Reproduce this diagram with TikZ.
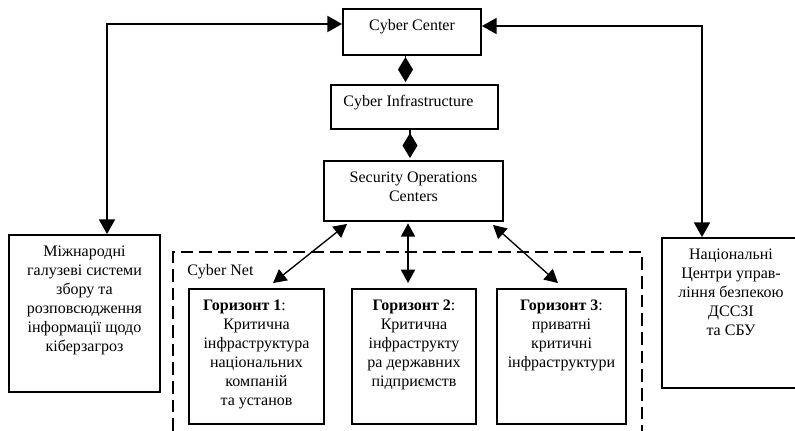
\documentclass[tikz,border=0pt]{standalone}
\usepackage{fontspec}
\setmainfont{Liberation Serif}
\usetikzlibrary{arrows.meta,fit,calc}

\begin{document}
\begin{tikzpicture}[x=0.75pt,y=-0.75pt,
  box/.style={draw, line width=1.4pt, inner sep=0pt},
  txt/.style={anchor=north, align=center, inner sep=0pt,
    font=\fontsize{12}{14.25}\selectfont},
  bigtip/.style={{Triangle[length=11pt,width=12pt]}-{Triangle[length=11pt,width=12pt]}},
  smalltip/.style={{Triangle[length=10pt,width=10.5pt]}-{Triangle[length=10pt,width=10.5pt]}},
  conn/.style={line width=1.3pt, bigtip},
  link/.style={line width=1pt, smalltip},
  joint/.style={line width=1pt, -{Diamond[length=18.75pt,width=11.25pt]}, shorten >=1.5pt},
  netframe/.style={line width=1.1pt, dash pattern=on 9.5pt off 4.5pt}
]
\useasboundingbox (0,0) rectangle (795,431);

% box corners
\coordinate (cc-a) at (343,9);    \coordinate (cc-b) at (481,55);
\coordinate (ci-a) at (331,85);   \coordinate (ci-b) at (498,129);
\coordinate (soc-a) at (324,161); \coordinate (soc-b) at (503,221);
\coordinate (in-a) at (9,235);    \coordinate (in-b) at (160,392);
\coordinate (h1-a) at (189,289);  \coordinate (h1-b) at (324,424);
\coordinate (h2-a) at (352,289);  \coordinate (h2-b) at (476,424);
\coordinate (h3-a) at (497,289);  \coordinate (h3-b) at (626,424);
\coordinate (na-a) at (662,238);  \coordinate (na-b) at (800,388);

\node[box, fit=(cc-a)(cc-b)] (cc) {};
\node[box, fit=(ci-a)(ci-b)] (ci) {};
\node[box, fit=(soc-a)(soc-b)] (soc) {};
\node[box, fit=(in-a)(in-b)] (intl) {};
\node[box, fit=(h1-a)(h1-b)] (h1) {};
\node[box, fit=(h2-a)(h2-b)] (h2) {};
\node[box, fit=(h3-a)(h3-b)] (h3) {};
\node[box, fit=(na-a)(na-b)] (nat) {};

% Cyber Net frame (open at the bottom edge of the page)
\draw[netframe] (173,431) -- (173,252) -- (642,252) -- (642,431);
\node[anchor=base west, inner sep=0pt, font=\fontsize{12}{14.25}\selectfont]
  (cnet) at (187,275) {Cyber Net};

% box texts
\node[txt] (cc-t) at ([yshift=-6.5pt]cc.north) {\strut Cyber Center};
\node[txt] (ci-t) at ([xshift=-4.5pt,yshift=-6.5pt]ci.north) {\strut Cyber Infrastructure};
\node[txt] (soc-t) at ([yshift=-6.5pt]soc.north) {\strut Security Operations\\Centers};
\node[txt] (intl-t) at ([yshift=-6.5pt]intl.north)
  {\strut Міжнародні\\галузеві системи\\збору та\\розповсюдження\\інформації щодо\\кіберзагроз};
\node[txt] (h1-t) at ([yshift=-6.5pt]h1.north)
  {\strut\textbf{Горизонт 1}:\hspace*{18pt}\\Критична\\інфраструктура\\національних\\компаній\\та установ};
\node[txt] (h2-t) at ([yshift=-6.5pt]h2.north)
  {\strut\textbf{Горизонт 2}:\\Критична\\інфраструкту\\ра державних\\підприємств};
\node[txt] (h3-t) at ([yshift=-6.5pt]h3.north)
  {\strut\textbf{Горизонт 3}:\\приватні\\критичні\\інфраструктури};
\node[txt] (nat-t) at ([yshift=-6.5pt]nat.north)
  {\strut Національні\\Центри управ-\\ління безпекою\\ДССЗІ\\та СБУ};

% vertical chain of the centre column
\coordinate (d1) at (405.5,70);
\coordinate (d2) at (410,145);
\draw[joint] (cc.south -| d1) -- (ci.north -| d1);
\draw[joint] (ci.south -| d2) -- (soc.north -| d2);

% links to the outer systems
\coordinate (lx) at (107,24);
\coordinate (rx) at (702,26);
\draw[conn] (intl.north -| lx) -- (lx) -- (cc.west |- lx);
\draw[conn] (cc.east |- rx) -- (rx) -- (nat.north -| rx);

% links from the operations centres to the three horizons
\coordinate (vx) at (408,250);
\draw[link] ($(soc.south west)+(24,2)$) -- ($(h1.north)+(16.5,-5)$);
\draw[link, line width=1.3pt, shorten <=1pt, shorten >=3.75pt] (soc.south -| vx) -- (h2.north -| vx);
\draw[link] ($(soc.south east)+(-11,3)$) -- ($(h3.north)+(-3.5,-5)$);
\end{tikzpicture}
\end{document}
